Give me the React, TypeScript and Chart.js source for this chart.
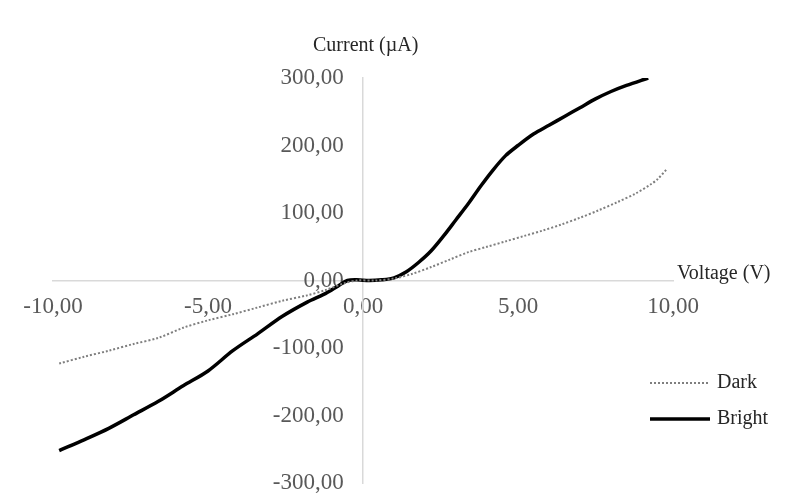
import React, { useEffect, useRef } from "react";
import { Chart, registerables } from "chart.js";

Chart.register(...registerables);

// Voltage (V) / Current (µA) readings
const voltsBright = [-9.8, -9.0, -8.2, -7.4, -6.6, -5.8, -5.0, -4.2, -3.4, -2.6, -1.8, -1.2, -0.8, -0.5, -0.2, 0.2, 0.6, 1.0, 1.4, 1.8, 2.2, 2.6, 3.0, 3.4, 3.8, 4.2, 4.6, 5.0, 5.5, 6.0, 6.5, 7.0, 7.5, 8.0, 8.5, 9.2];
const currentBright = [-252, -236, -219, -199, -179, -156, -134, -104, -79, -53, -32, -19, -8, 0, 1, 0, 1, 4, 13, 27, 44, 66, 90, 114, 140, 164, 185, 200, 217, 230, 243, 256, 269, 280, 289, 300];

const voltsDark = [-9.8, -9.0, -8.2, -7.4, -6.6, -5.8, -5.0, -4.2, -3.4, -2.6, -1.8, -1.2, -0.6, -0.2, 0.4, 1.0, 1.6, 2.2, 2.8, 3.4, 4.0, 4.6, 5.2, 5.8, 6.4, 7.0, 7.6, 8.2, 8.8, 9.3, 9.5, 9.8];
const currentDark = [-123, -113, -104, -94, -85, -70, -59, -50, -40, -30, -22, -14, -4, 0, 0, 3, 10, 20, 31, 42, 50, 58, 66, 74, 83, 93, 104, 116, 129, 143, 150, 165];

const xTickStep = 5;
const yTickStep = 100;
const seriesNames = ["Dark", "Bright"];
const xTitle = "Voltage (V)";
const yTitle = "Current (\u00b5A)";

const fmt = (v: number) => Number(v).toFixed(2).replace(".", ",");

const titlesPlugin = {
  id: "titlesAndLegend",
  afterDraw(chart: any) {
    const ctx = chart.ctx;
    ctx.save();
    ctx.font = '20px "Liberation Serif"';
    ctx.fillStyle = "#262626";
    ctx.textBaseline = "middle";
    ctx.textAlign = "left";
    ctx.fillText(yTitle, 313, 46);
    ctx.fillText(xTitle, 677, 274);

    // legend
    ctx.lineCap = "butt";
    ctx.strokeStyle = "#7f7f7f";
    ctx.lineWidth = 2;
    ctx.setLineDash([2, 2]);
    ctx.beginPath();
    ctx.moveTo(650, 383);
    ctx.lineTo(708, 383);
    ctx.stroke();
    ctx.setLineDash([]);
    ctx.strokeStyle = "#000000";
    ctx.lineWidth = 3.5;
    ctx.beginPath();
    ctx.moveTo(650, 419);
    ctx.lineTo(710, 419);
    ctx.stroke();
    ctx.fillText(seriesNames[0], 717, 383);
    ctx.fillText(seriesNames[1], 717, 419);
    ctx.restore();
  },
};

const tickFont = { family: '"Liberation Serif"', size: 23 };

export default function App() {
  const ref = useRef<HTMLCanvasElement | null>(null);
  useEffect(() => {
    if (!ref.current) return;
    const chart = new Chart(ref.current, {
      type: "line",
      data: {
        datasets: [
          {
            label: seriesNames[0],
            data: voltsDark.map((v, i) => ({ x: v, y: currentDark[i] })),
            borderColor: "#7f7f7f",
            borderWidth: 2,
            borderDash: [2, 2],
            pointRadius: 0,
            tension: 0.3,
            fill: false,
          },
          {
            label: seriesNames[1],
            data: voltsBright.map((v, i) => ({ x: v, y: currentBright[i] })),
            borderColor: "#000000",
            borderWidth: 3.5,
            pointRadius: 0,
            tension: 0.3,
            fill: false,
          },
        ],
      },
      options: {
        responsive: false,
        animation: false,
        layout: { padding: { left: 53, right: 135, top: 78, bottom: 19 } },
        plugins: { legend: { display: false }, tooltip: { enabled: false } },
        scales: {
          x: {
            type: "linear",
            min: -10,
            max: 10,
            position: { y: 0 } as any,
            afterFit: (s: any) => { s.height = 0; },
            grid: { display: true, color: "rgba(0,0,0,0)", drawTicks: false },
            border: { display: true, color: "#d9d9d9", width: 1.5 },
            ticks: {
              stepSize: xTickStep,
              padding: 13,
              color: "#595959",
              font: tickFont,
              callback: (v: any) => fmt(v),
              maxRotation: 0,
            },
          },
          y: {
            type: "linear",
            min: -300,
            max: 300,
            position: { x: 0 } as any,
            afterFit: (s: any) => { s.width = 0; },
            grid: { display: true, color: "rgba(0,0,0,0)", drawTicks: false },
            border: { display: true, color: "#d9d9d9", width: 1.5 },
            ticks: { display: false, stepSize: yTickStep },
          },
          yLabels: {
            type: "linear",
            axis: "y",
            min: -300,
            max: 300,
            position: { x: -0.62 } as any,
            afterFit: (s: any) => { s.width = 0; },
            grid: { display: false, drawTicks: false },
            border: { display: false },
            ticks: {
              stepSize: yTickStep,
              padding: 0,
              color: "#595959",
              font: tickFont,
              callback: (v: any) => fmt(v),
            },
          } as any,
        },
      },
      plugins: [titlesPlugin],
    });
    return () => chart.destroy();
  }, []);
  return (
    <div style={{ position: "fixed", left: 0, top: 0, width: 808, height: 502, background: "#fff" }}>
      <canvas ref={ref} width={808} height={502} style={{ display: "block" }} />
    </div>
  );
}
